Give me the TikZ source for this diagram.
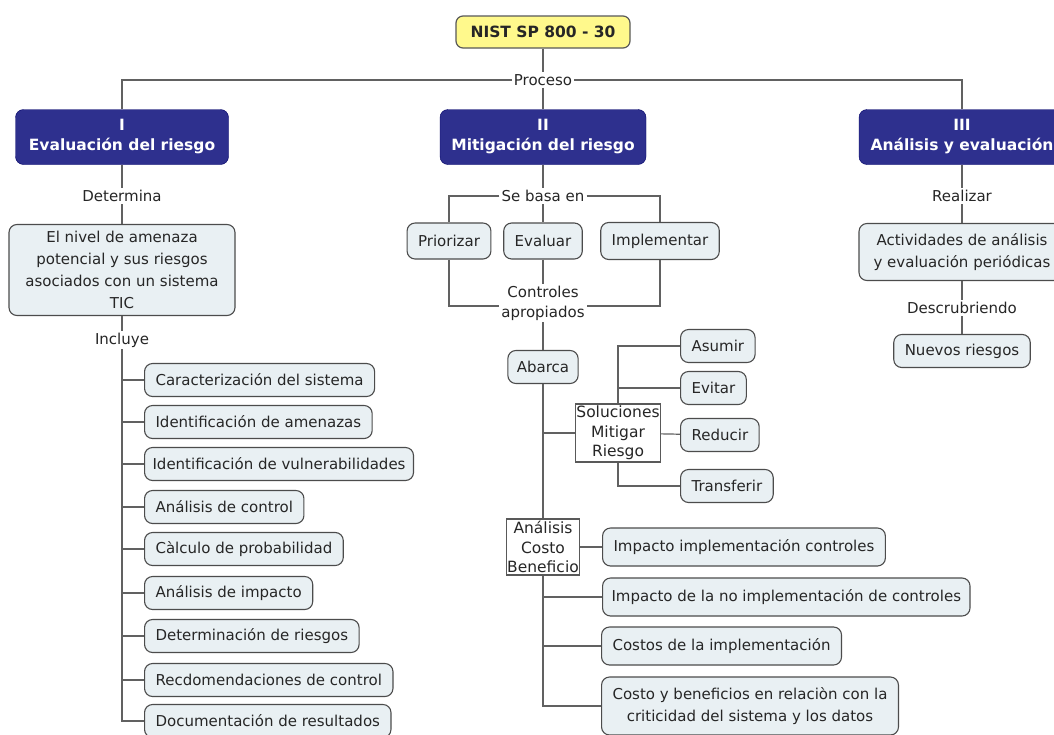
\documentclass[tikz,border=0pt]{standalone}
\usepackage{fontspec}
\setmainfont{DejaVu Sans}
\begin{document}
\begin{tikzpicture}[x=1pt,y=-1pt,
  every node/.style={font=\fontsize{15}{22}\selectfont, text=black!85, align=center},
  conn/.style={draw=black!62, line width=1.2pt},
  titlebox/.style={draw=black!65, fill=yellow!45, rounded corners=7pt, line width=1.2pt,
    font=\fontsize{15.5}{21}\selectfont\bfseries, minimum width=174pt, minimum height=32pt, inner sep=2pt},
  phase/.style={draw=blue!40!black, fill={rgb,255:red,46;green,48;blue,142}, text=white, rounded corners=8pt,
    font=\fontsize{15.5}{20}\selectfont\bfseries, minimum height=55pt, inner sep=2pt},
  item/.style={draw=black!70, fill={rgb,255:red,233;green,240;blue,243}, rounded corners=8pt, line width=1.1pt,
    minimum height=33pt, inner xsep=11pt, inner ysep=3pt},
  rbox/.style={draw=black!65, fill=white, line width=1.1pt, inner sep=0.5pt,
    font=\fontsize{15.5}{19.5}\selectfont},
  lbl/.style={fill=white, inner sep=2pt}
]
\useasboundingbox (0,0) rectangle (1054,734);
\fill[white] (0,0) rectangle (1054,734);

% top of the map
\node[titlebox] (nist) at (543,32) {NIST SP 800 - 30};
\node[lbl] (proc) at (543,80) {Proceso};

% the three phases
\node[phase, minimum width=213pt] (I) at (122,137) {I\\Evaluación del riesgo};
\node[phase, minimum width=206pt] (II) at (543,137) {II\\Mitigación del riesgo};
\node[phase, minimum width=206pt] (III) at (962,137) {III\\Análisis y evaluación};

% phase I
\node[lbl] (det) at (122,196) {Determina};
\node[item, minimum width=226pt, minimum height=91pt] (nivel) at (122,270)
  {El nivel de amenaza\\potencial y sus riesgos\\asociados con un sistema\\TIC};
\node[lbl] (incl) at (122,340) {Incluye};
\node[item, anchor=west] (i1) at (144,380) {Caracterización del sistema};
\node[item, anchor=west] (i2) at (144,422) {Identificación de amenazas};
\node[item, anchor=west, inner xsep=8pt] (i3) at (144,464) {Identificación de vulnerabilidades};
\node[item, anchor=west] (i4) at (144,507) {Análisis de control};
\node[item, anchor=west] (i5) at (144,549) {Càlculo de probabilidad};
\node[item, anchor=west] (i6) at (144,593) {Análisis de impacto};
\node[item, anchor=west] (i7) at (144,636) {Determinación de riesgos};
\node[item, anchor=west] (i8) at (144,680) {Recdomendaciones de control};
\node[item, anchor=west] (i9) at (144,721) {Documentación de resultados};

% phase II
\node[lbl] (sebasa) at (543,196) {Se basa en};
\node[item, minimum height=36pt] (prio) at (449,241) {Priorizar};
\node[item, minimum height=36pt] (eval) at (543,241) {Evaluar};
\node[item, minimum height=37pt] (impl) at (660,241) {Implementar};
\node[lbl, font=\fontsize{15}{20}\selectfont] (ctrl) at (543,303) {Controles\\apropiados};
\node[item, inner xsep=9pt] (abarca) at (543,367) {Abarca};
\node[rbox, minimum height=58pt] (sol) at (618,433) {Soluciones\\Mitigar\\Riesgo};
\node[item, anchor=west] (asumir) at (680,346) {Asumir};
\node[item, anchor=west] (evitar) at (680,388) {Evitar};
\node[item, anchor=west] (reducir) at (680,435) {Reducir};
\node[item, anchor=west] (transf) at (680,486) {Transferir};
\node[rbox, minimum height=56pt] (acb) at (543,547) {Análisis\\Costo\\Beneficio};
\node[item, minimum height=38pt, anchor=west] (c1) at (602,547) {Impacto implementación controles};
\node[item, minimum height=38pt, anchor=west, inner xsep=9pt] (c2) at (602,597) {Impacto de la no implementación de controles};
\node[item, minimum height=38pt, anchor=west] (c3) at (601,646) {Costos de la implementación};
\node[item, minimum height=58pt, anchor=west] (c4) at (601,706)
  {Costo y beneficios en relaciòn con la\\criticidad del sistema y los datos};

% phase III
\node[lbl] (real) at (962,196) {Realizar};
\node[item, minimum width=206pt, minimum height=57pt] (act) at (962,252)
  {Actividades de análisis\\y evaluación periódicas};
\node[lbl] (desc) at (962,308) {Descrubriendo};
\node[item] (nuevos) at (962,351) {Nuevos riesgos};

% connectors: top
\draw[conn] (nist) -- (proc);
\draw[conn] (proc.west) -| (I.north);
\draw[conn] (proc.east) -| (III.north);
\draw[conn] (proc) -- (II);

% connectors: phase I
\draw[conn] (I) -- (det);
\draw[conn] (det) -- (nivel);
\draw[conn] (nivel) -- (incl);
\draw[conn] (incl.south) |- (i9.west);
\foreach \n in {i1,i2,i3,i4,i5,i6,i7,i8}
  \draw[conn] (\n.west) -- (\n.west -| incl.south);

% connectors: phase II
\draw[conn] (II) -- (sebasa);
\draw[conn] (sebasa.west) -| (prio.north);
\draw[conn] (sebasa.east) -| (impl.north);
\draw[conn] (sebasa) -- (eval);
\draw[conn] (prio.south) |- ([yshift=-3pt]ctrl.west);
\draw[conn] (impl.south) |- ([yshift=-3pt]ctrl.east);
\draw[conn] (eval) -- (ctrl);
\draw[conn] (ctrl) -- (abarca);
\draw[conn] (abarca) -- (acb);
\draw[conn] (sol.west) -- (sol.west -| abarca.south);
\draw[conn] (sol.north) |- (asumir.west);
\draw[conn] (evitar.west) -- (evitar.west -| sol.north);
\draw[conn] (sol) -- (reducir);
\draw[conn] (sol.south) |- (transf.west);
\draw[conn] (acb) -- (c1);
\draw[conn] (acb.south) |- (c4.west);
\draw[conn] (c2.west) -- (c2.west -| acb.south);
\draw[conn] (c3.west) -- (c3.west -| acb.south);

% connectors: phase III
\draw[conn] (III) -- (real);
\draw[conn] (real) -- (act);
\draw[conn] (act) -- (desc);
\draw[conn] (desc) -- (nuevos);
\end{tikzpicture}
\end{document}
